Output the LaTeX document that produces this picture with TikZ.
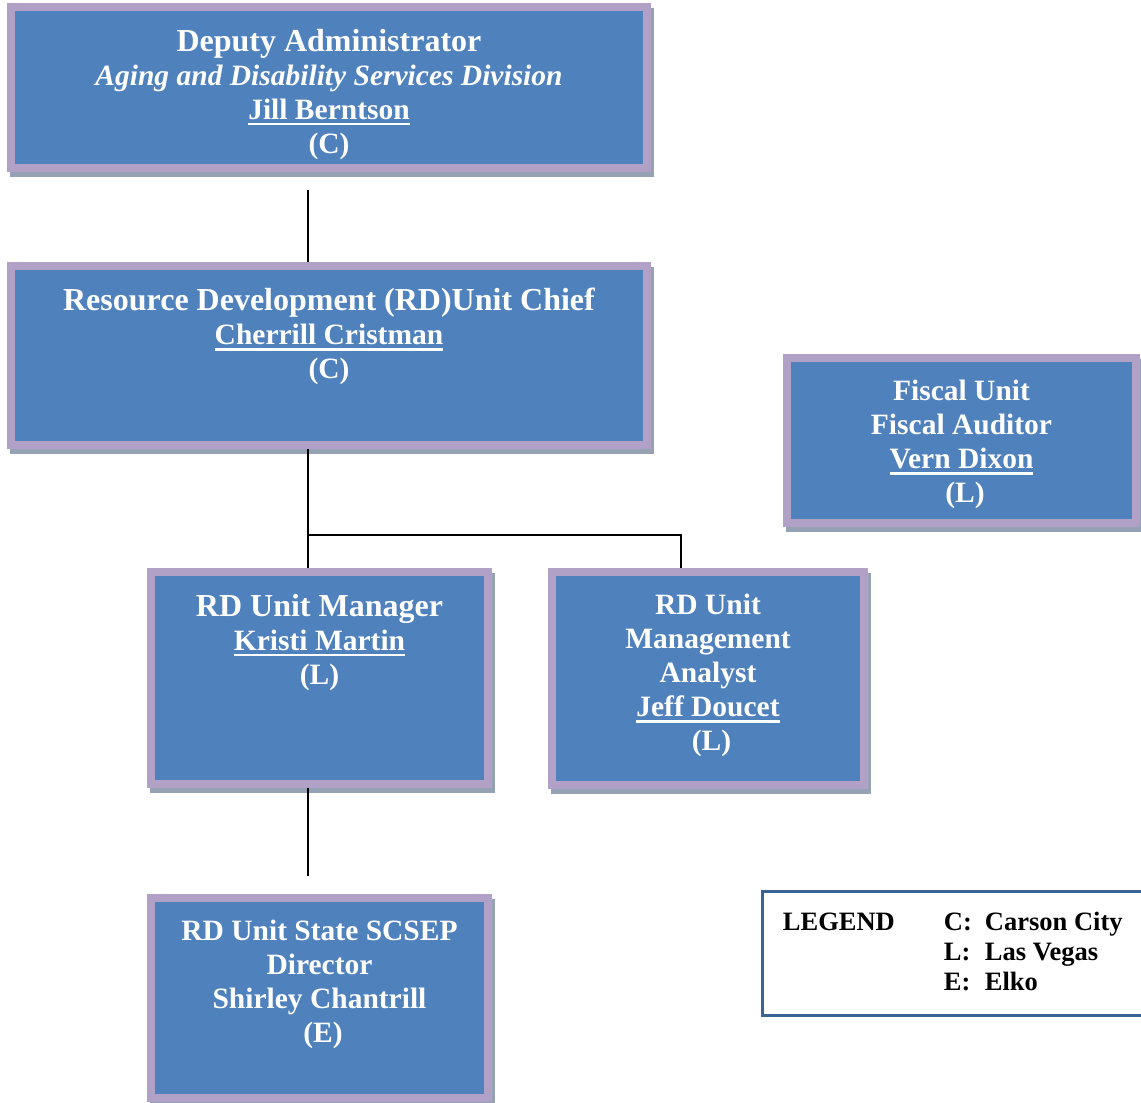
\documentclass[tikz,border=0pt]{standalone}
\usepackage{fontspec}
\setmainfont{Liberation Serif}
\usetikzlibrary{shadows}

\definecolor{unitblue}{HTML}{4F81BD}
\definecolor{unitpurple}{HTML}{B2A1C7}
\definecolor{unitshadow}{HTML}{94A2B4}
\definecolor{legendblue}{HTML}{3B6496}

\newcommand{\staffname}[1]{\setbox0=\hbox{#1}\rlap{\rule[-6pt]{\wd0}{2.4pt}}\box0}
\newcommand{\unithead}[1]{{\fontsize{32}{34}\selectfont #1}}

\begin{document}
\begin{tikzpicture}[x=1pt, y=-1pt,
  unit/.style={draw=unitpurple, fill=unitblue, line width=8pt, inner sep=0pt,
    general shadow={fill=unitshadow, draw=unitshadow, line width=8pt, shadow xshift=3pt, shadow yshift=-5pt}},
  unit text/.style={anchor=north, yshift=-26pt, inner sep=0pt, text=white, align=center, font=\fontsize{29.5}{34}\selectfont\bfseries},
  link/.style={line width=2pt}]

\useasboundingbox (0,0) rectangle (1141,1103);

\node[unit, minimum width=636pt, minimum height=161pt] (deputy) at (329,87.5) {};
\node[unit text] (deputytext) at (deputy.north) {\unithead{Deputy Administrator}\\\textit{Aging and Disability Services Division}\\\staffname{Jill Berntson}\\(C)};

\node[unit, minimum width=636pt, minimum height=179pt] (chief) at (329,355.5) {};
\node[unit text] (chieftext) at (chief.north) {\unithead{Resource Development (RD)Unit Chief}\\\staffname{Cherrill Cristman}\\(C)};

\node[unit, minimum width=349pt, minimum height=165pt] (fiscal) at (961.5,440.5) {};
\node[unit text] (fiscaltext) at (fiscal.north) {Fiscal Unit\\Fiscal Auditor\\\staffname{Vern Dixon}\\\hspace*{7pt}(L)};

\node[unit, minimum width=337pt, minimum height=212pt] (manager) at (319.5,678) {};
\node[unit text] (managertext) at (manager.north) {\unithead{RD Unit Manager}\\\staffname{Kristi Martin}\\(L)};

\node[unit, minimum width=312pt, minimum height=213pt] (analyst) at (708,678.5) {};
\node[unit text] (analysttext) at (analyst.north) {RD Unit\\Management\\Analyst\\\staffname{Jeff Doucet}\\\hspace*{7pt}(L)};

\node[unit, minimum width=337pt, minimum height=200pt] (director) at (319.5,998) {};
\node[unit text] (directortext) at (director.north) {RD Unit State SCSEP\\Director\\Shirley Chantrill\\\hspace*{7pt}(E)};

% legend, runs off the right edge
\node[draw=legendblue, line width=3pt, minimum width=383.5pt, minimum height=124pt] (legend) at (954,953.5) {};
\node[anchor=base west, inner sep=0pt, font=\fontsize{26.5}{30}\selectfont\bfseries] (legendkey) at ([xshift=22pt, yshift=-40pt]legend.north west) {\begin{tabular}[t]{@{}p{161pt}@{}p{41pt}@{}l@{}}
LEGEND & C: & Carson City\\
 & L: & Las Vegas\\
 & E: & Elko
\end{tabular}};

\coordinate (spine) at (308,0);
\coordinate (fork) at (308,535);

\draw[link, shorten <=18pt] (spine |- deputy.south) -- (spine |- chief.north);
\draw[link] (spine |- chief.south) -- (spine |- manager.north);
\draw[link] (fork) -| ([xshift=-27pt]analyst.north);
\draw[link, shorten >=18pt] (spine |- manager.south) -- (spine |- director.north);

\end{tikzpicture}
\end{document}
